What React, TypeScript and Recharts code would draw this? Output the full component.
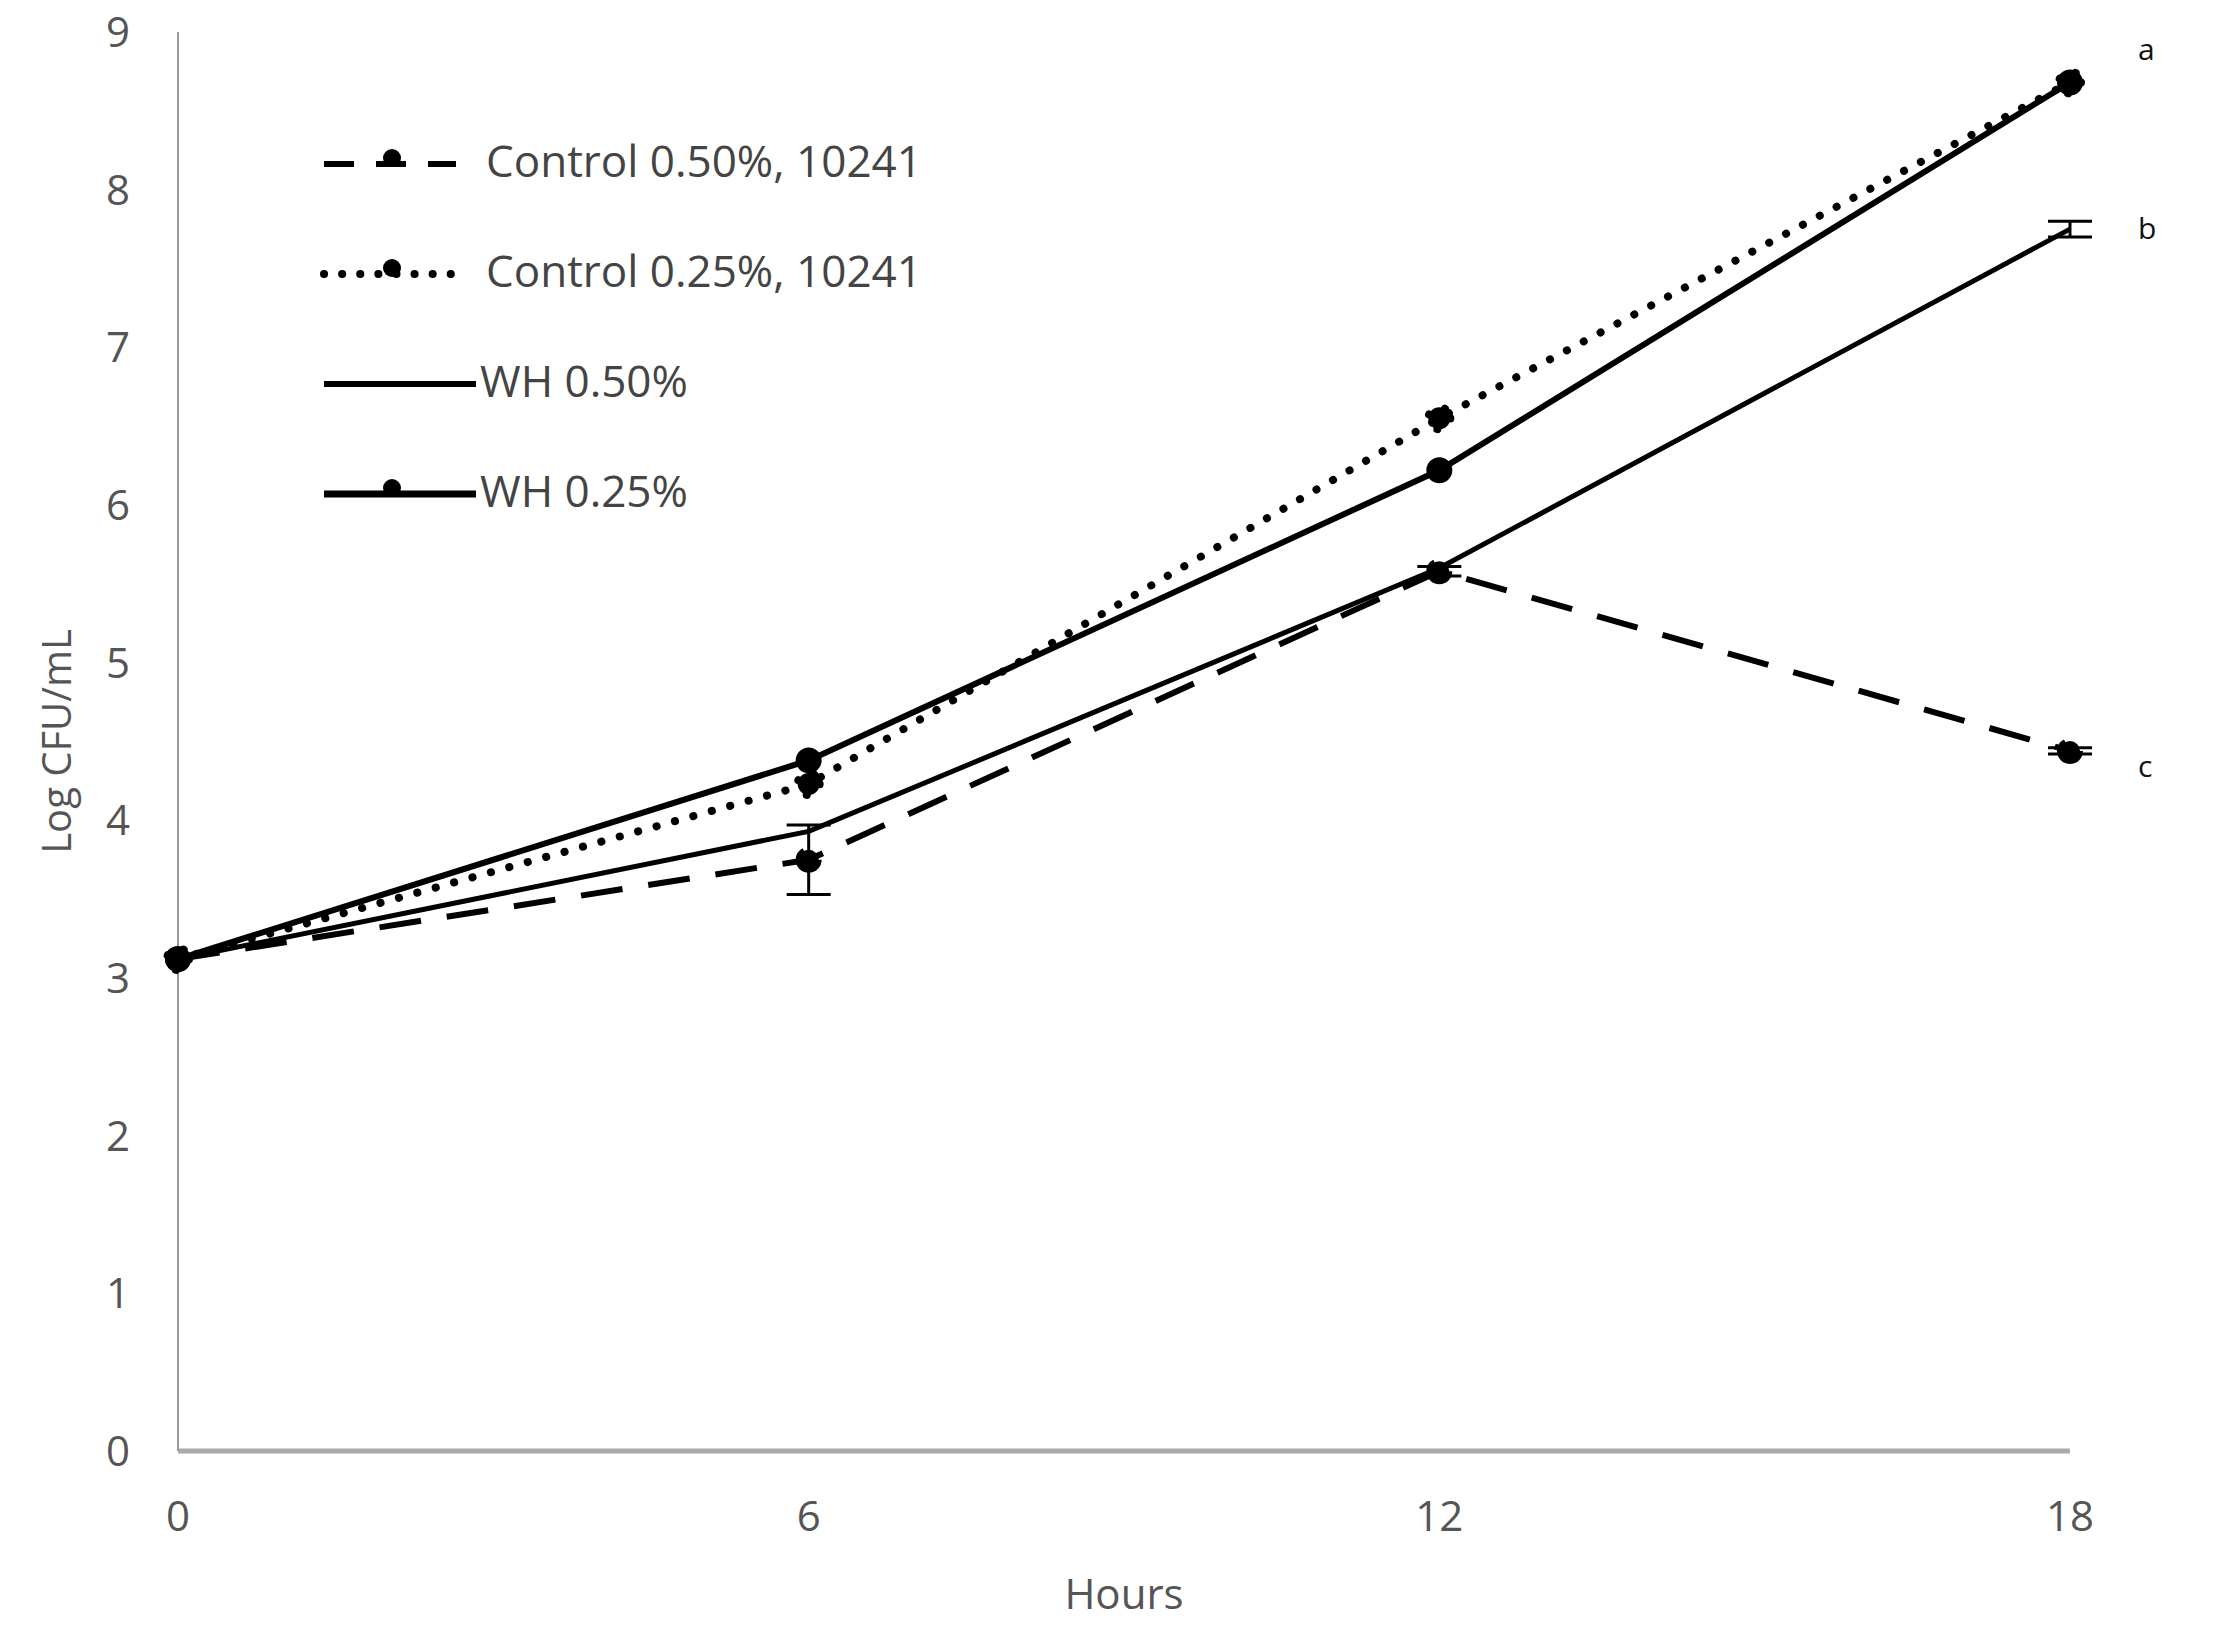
import React from 'react';
import { LineChart, Line, XAxis, YAxis, ErrorBar, Label } from 'recharts';

const hours = [0, 6, 12, 18];
const control050 = [3.12, 3.75, 5.58, 4.44];
const control025 = [3.12, 4.23, 6.55, 8.68];
const wh050 = [3.12, 3.93, 5.6, 7.75];
const wh025 = [3.12, 4.38, 6.22, 8.68];
const control050Err = [0, 0.22, 0.03, 0.02];
const wh050Err = [0, 0, 0, 0.05];
const yTicks = [0, 1, 2, 3, 4, 5, 6, 7, 8, 9];
const groupLetters = ['a', 'b', 'c'];

const legendItems = [
    { name: 'Control 0.50%, 10241', dash: '30 22', width: 6, dot: true },
    { name: 'Control 0.25%, 10241', dash: '0.1 18', width: 8, dot: true },
    { name: 'WH 0.50%', dash: undefined, width: 6, dot: false },
    { name: 'WH 0.25%', dash: undefined, width: 7, dot: true },
];

const data = hours.map((h, i) => ({
    h,
    c50: control050[i],
    c25: control025[i],
    w50: wh050[i],
    w25: wh025[i],
    c50err: control050Err[i],
    w50err: wh050Err[i],
}));

const FONT = '"Open Sans", "Noto Sans", sans-serif';

// letter drawn right of the last point of a series
const endLetter = (letter: string, dy: number) => (props: any) => {
    const { x, y, index } = props;
    if (index !== hours.length - 1) return null;
    return (
        <text x={x + 68} y={y + dy} fontSize={30} fontFamily={FONT} fill="#111" textAnchor="start">
            {letter}
        </text>
    );
};

const LegendBox = () => (
    <div style={{ position: 'absolute', left: 320, top: 105, fontFamily: FONT }}>
        {legendItems.map((item, i) => (
            <div key={item.name} style={{ display: 'flex', alignItems: 'center', height: 110 }}>
                <svg width={160} height={40}>
                    <line
                        x1={4}
                        y1={24}
                        x2={i < 2 ? 136 : 156}
                        y2={24}
                        stroke="#000"
                        strokeWidth={item.width}
                        strokeDasharray={item.dash}
                        strokeLinecap={item.dash && item.dash.startsWith('0.1') ? 'round' : 'butt'}
                    />
                    {item.dot && <circle cx={72} cy={18} r={9} fill="#000" />}
                </svg>
                <span style={{ fontSize: 44, color: '#444', marginLeft: i < 2 ? 6 : 0 }}>
                    {item.name}
                </span>
            </div>
        ))}
    </div>
);

const App: React.FC = () => {
    return (
        <div style={{ position: 'absolute', left: 0, top: 0, width: 2217, height: 1640, background: '#fff' }}>
            <LineChart width={2217} height={1640} data={data} margin={{ top: 32, right: 147, left: 78, bottom: 0 }}>
                <XAxis
                    dataKey="h"
                    type="number"
                    domain={[0, 18]}
                    ticks={hours}
                    tickLine={false}
                    axisLine={{ stroke: '#aaa', strokeWidth: 5 }}
                    tick={{ fontSize: 42, fill: '#555', fontFamily: FONT }}
                    tickMargin={44}
                    height={189}
                >
                    <Label value="Hours" position="insideBottom" offset={0} dy={-31} fontSize={42} fill="#555" fontFamily={FONT} />
                </XAxis>
                <YAxis
                    type="number"
                    domain={[0, 9]}
                    ticks={yTicks}
                    interval={0}
                    tickLine={false}
                    axisLine={{ stroke: '#999', strokeWidth: 2 }}
                    tick={{ fontSize: 42, fill: '#555', fontFamily: FONT }}
                    tickMargin={42}
                    width={100}
                >
                    <Label
                        value="Log CFU/mL"
                        angle={-90}
                        position="insideLeft"
                        dx={-26}
                        textAnchor="middle"
                        fontSize={40}
                        fill="#555"
                        fontFamily={FONT}
                    />
                </YAxis>
                <Line
                    dataKey="c50"
                    stroke="#000"
                    strokeWidth={6}
                    strokeDasharray="42 26"
                    dot={{ r: 10, fill: '#000', stroke: '#000' }}
                    isAnimationActive={false}
                    label={endLetter(groupLetters[2], 26)}
                >
                    <ErrorBar dataKey="c50err" width={22} strokeWidth={3} stroke="#000" direction="y" />
                </Line>
                <Line
                    dataKey="c25"
                    stroke="#000"
                    strokeWidth={8}
                    strokeDasharray="0.1 19"
                    strokeLinecap="round"
                    dot={{ r: 11, fill: '#000', stroke: '#000' }}
                    isAnimationActive={false}
                    label={endLetter(groupLetters[0], -22)}
                />
                <Line
                    dataKey="w50"
                    stroke="#000"
                    strokeWidth={5}
                    dot={false}
                    isAnimationActive={false}
                    label={endLetter(groupLetters[1], 10)}
                >
                    <ErrorBar dataKey="w50err" width={22} strokeWidth={3} stroke="#000" direction="y" />
                </Line>
                <Line
                    dataKey="w25"
                    stroke="#000"
                    strokeWidth={6}
                    dot={{ r: 10, fill: '#000', stroke: '#000' }}
                    isAnimationActive={false}
                />
            </LineChart>
            <LegendBox />
        </div>
    );
};

export default App;
